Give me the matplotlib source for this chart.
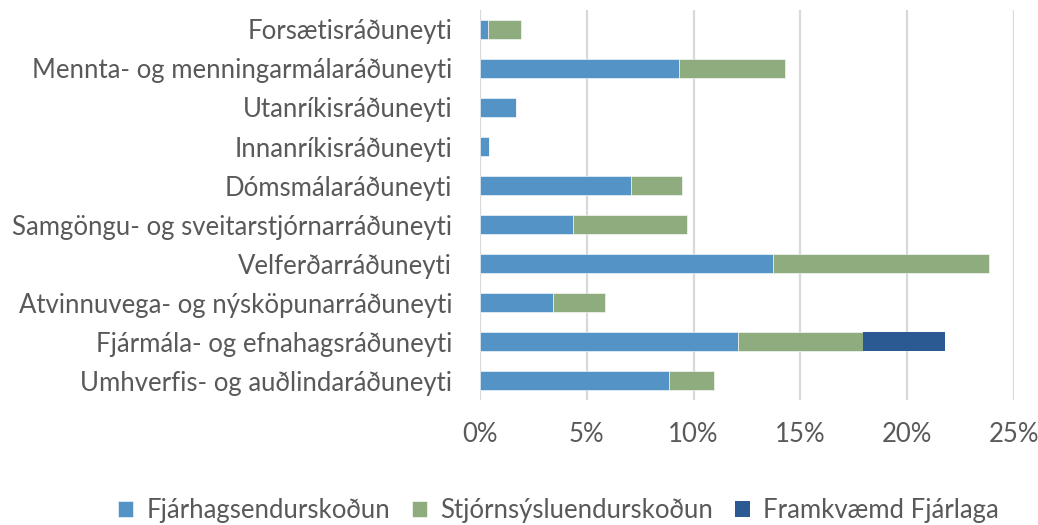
import matplotlib.pyplot as plt
from matplotlib.ticker import PercentFormatter

plt.rcParams['font.family'] = ['Lato', 'DejaVu Sans']

radunevti = ['Forsætisráðuneyti',
             'Mennta- og menningarmálaráðuneyti',
             'Utanríkisráðuneyti',
             'Innanríkisráðuneyti',
             'Dómsmálaráðuneyti',
             'Samgöngu- og sveitarstjórnarráðuneyti',
             'Velferðarráðuneyti',
             'Atvinnuvega- og nýsköpunarráðuneyti',
             'Fjármála- og efnahagsráðuneyti',
             'Umhverfis- og auðlindaráðuneyti']
fjarhags = [0.39, 9.33, 1.70, 0.42, 7.09, 4.36, 13.73, 3.40, 12.10, 8.83]
stjornsysl = [1.51, 4.97, 0.0, 0.0, 2.38, 5.34, 10.10, 2.44, 5.84, 2.13]
framkvaemd = [0, 0, 0, 0, 0, 0, 0, 0, 3.84, 0]

blue = '#5493C5'
green = '#8EAC7D'
dark = '#2B5992'
txt = '#595959'

fig = plt.figure(figsize=(10.38, 5.25), dpi=100)
ax = fig.add_axes([0.4624, 0.238, 0.5145, 0.743])

y = range(len(radunevti))
ax.barh(y, fjarhags, height=0.5, color=blue, edgecolor='white', linewidth=0.4,
        label='Fjárhagsendurskoðun')
left2 = fjarhags
ax.barh(y, stjornsysl, left=left2, height=0.5, color=green, edgecolor='white',
        linewidth=0.4, label='Stjórnsýsluendurskoðun')
left3 = [a + b for a, b in zip(fjarhags, stjornsysl)]
ax.barh(y, framkvaemd, left=left3, height=0.5, color=dark, linewidth=0,
        label='Framkvæmd Fjárlaga')

ax.set_ylim(len(radunevti) - 0.5, -0.5)
ax.set_xlim(0, 25)
ax.set_xticks([0, 5, 10, 15, 20, 25])
ax.xaxis.set_major_formatter(PercentFormatter(decimals=0))
ax.set_yticks(list(y))
ax.set_yticklabels(radunevti)
ax.grid(axis='x', color='#D9D9D9', linewidth=1.6)
ax.set_axisbelow(True)
for s in ax.spines.values():
    s.set_visible(False)
ax.tick_params(axis='both', length=0, colors=txt, labelsize=18.5)
ax.tick_params(axis='x', pad=16)
ax.tick_params(axis='y', pad=20)

leg = fig.legend(loc='lower center', bbox_to_anchor=(0.538, -0.04), ncol=3,
                 frameon=False, fontsize=18.5, handlelength=0.6, handleheight=0.6,
                 handletextpad=0.5, columnspacing=0.85)
for t in leg.get_texts():
    t.set_color(txt)

fig.savefig('out.png', dpi=100)
